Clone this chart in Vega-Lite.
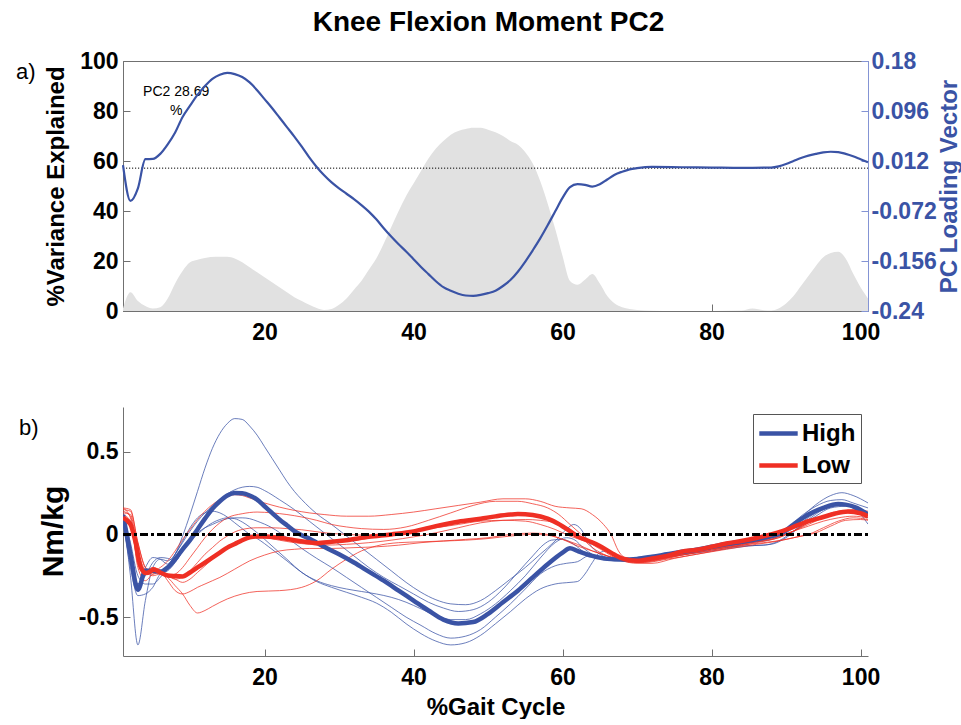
{
  "$schema": "https://vega.github.io/schema/vega-lite/v6.json",
  "title": {"text": "Knee Flexion Moment PC2", "font": "Liberation Sans", "fontSize": 28, "fontWeight": "bold", "color": "#000000", "anchor": "middle", "offset": 13},
  "padding": {"left": 15, "top": 8, "right": 0, "bottom": 0},
  "spacing": 62,
  "resolve": {"legend": {"color": "independent"}, "scale": {"color": "independent"}},
  "config": {
    "font": "Liberation Sans",
    "view": {"stroke": null},
    "axis": {
      "grid": false,
      "domainColor": "#707070",
      "tickColor": "#707070",
      "tickSize": -7,
      "labelFont": "Liberation Sans",
      "labelFontSize": 23,
      "labelFontWeight": "bold",
      "labelColor": "#000000",
      "labelFlush": false,
      "labelOverlap": false,
      "titleFont": "Liberation Sans",
      "titleFontWeight": "bold",
      "titleColor": "#000000"
    },
    "legend": {
      "orient": "top-right",
      "offset": 7,
      "strokeColor": "#555555",
      "fillColor": "#ffffff",
      "padding": 5,
      "rowPadding": 5,
      "labelOffset": 9,
      "labelFont": "Liberation Sans",
      "labelFontSize": 24,
      "labelFontWeight": "bold",
      "labelColor": "#000000",
      "symbolType": "M-1.6,0H1.6",
      "symbolSize": 576,
      "symbolOffset": 6,
      "symbolStrokeWidth": 4.5,
      "symbolOpacity": 1
    }
  },
  "datasets": {
    "variance": [
      {"x":1,"y":1},{"x":2,"y":7.5},{"x":3,"y":4},{"x":4,"y":2},{"x":5,"y":1},{"x":6,"y":1.5},{"x":7,"y":5},{"x":8,"y":11},{"x":9,"y":16},{"x":10,"y":19.5},
      {"x":11,"y":20.5},{"x":12,"y":21.2},{"x":13.5,"y":21.7},{"x":15,"y":21.7},{"x":16,"y":21},{"x":17,"y":19.5},{"x":18,"y":17.5},{"x":19,"y":15.5},{"x":20,"y":13.5},
      {"x":21,"y":11.5},{"x":22,"y":9.5},{"x":23,"y":7.5},{"x":24,"y":5.5},{"x":25,"y":4},{"x":26,"y":2.5},{"x":27,"y":1.2},{"x":28,"y":0.4},{"x":29,"y":0.8},{"x":30,"y":2.5},
      {"x":31,"y":5},{"x":32,"y":8.5},{"x":33,"y":12},{"x":34,"y":16.5},{"x":35,"y":21},{"x":36,"y":27},{"x":37,"y":33.5},{"x":38,"y":40},{"x":39,"y":46},{"x":40,"y":51},
      {"x":41,"y":56},{"x":42,"y":61},{"x":43,"y":65},{"x":44,"y":68},{"x":45,"y":70.5},{"x":46,"y":72},{"x":47,"y":72.8},{"x":48,"y":73.3},{"x":49,"y":73.3},{"x":50,"y":72.5},
      {"x":51,"y":71.5},{"x":52,"y":70},{"x":53,"y":68},{"x":54,"y":66.5},{"x":55,"y":63.5},{"x":56,"y":59},{"x":57,"y":52},{"x":58,"y":43},{"x":59,"y":33},{"x":60,"y":22},
      {"x":61,"y":12},{"x":62,"y":10.5},{"x":63,"y":12.5},{"x":64,"y":14.8},{"x":65,"y":11},{"x":66,"y":6},{"x":67,"y":3},{"x":68,"y":1.5},{"x":69,"y":0.8},{"x":70,"y":0.4},
      {"x":72,"y":0.1},{"x":75,"y":0},{"x":80,"y":0},{"x":84,"y":0.2},{"x":85.5,"y":1},{"x":87,"y":0.3},{"x":88,"y":0.2},{"x":89,"y":1},{"x":90,"y":3},
      {"x":91,"y":6},{"x":92,"y":10},{"x":93,"y":14},{"x":94,"y":18},{"x":95,"y":21.5},{"x":96,"y":23.2},{"x":97,"y":23.7},{"x":98,"y":21},{"x":99,"y":15},{"x":100,"y":9.5},{"x":101,"y":5}
    ],
    "loading": [
      {"x":1,"y":0.005},{"x":2,"y":-0.055},{"x":3,"y":-0.034},{"x":4,"y":0.015},{"x":5,"y":0.0155},{"x":6,"y":0.024},{"x":7,"y":0.04},{"x":8,"y":0.06},{"x":9,"y":0.086},{"x":10,"y":0.105},
      {"x":11,"y":0.123},{"x":12,"y":0.138},{"x":13,"y":0.15},{"x":14,"y":0.157},{"x":15,"y":0.16},{"x":16,"y":0.158},{"x":17,"y":0.153},{"x":18,"y":0.144},{"x":19,"y":0.131},{"x":20,"y":0.116},
      {"x":21,"y":0.101},{"x":22,"y":0.085},{"x":23,"y":0.069},{"x":24,"y":0.053},{"x":25,"y":0.036},{"x":26,"y":0.018},{"x":27,"y":0.002},{"x":28,"y":-0.012},{"x":29,"y":-0.024},{"x":30,"y":-0.034},
      {"x":31,"y":-0.043},{"x":32,"y":-0.052},{"x":33,"y":-0.062},{"x":34,"y":-0.073},{"x":35,"y":-0.086},{"x":36,"y":-0.101},{"x":37,"y":-0.115},{"x":38,"y":-0.128},{"x":39,"y":-0.14},{"x":40,"y":-0.153},
      {"x":41,"y":-0.166},{"x":42,"y":-0.178},{"x":43,"y":-0.19},{"x":44,"y":-0.2},{"x":45,"y":-0.206},{"x":46,"y":-0.211},{"x":47,"y":-0.214},{"x":48,"y":-0.2145},{"x":49,"y":-0.213},{"x":50,"y":-0.21},
      {"x":51,"y":-0.206},{"x":52,"y":-0.198},{"x":53,"y":-0.188},{"x":54,"y":-0.174},{"x":55,"y":-0.157},{"x":56,"y":-0.138},{"x":57,"y":-0.118},{"x":58,"y":-0.096},{"x":59,"y":-0.073},{"x":60,"y":-0.05},
      {"x":61,"y":-0.032},{"x":62,"y":-0.027},{"x":63,"y":-0.028},{"x":64,"y":-0.031},{"x":65,"y":-0.027},{"x":66,"y":-0.019},{"x":67,"y":-0.011},{"x":68,"y":-0.006},{"x":69,"y":-0.002},{"x":70,"y":0.0},
      {"x":72,"y":0.002},{"x":76,"y":0.0015},{"x":80,"y":0.001},{"x":84,"y":0.0005},{"x":88,"y":0.001},{"x":89,"y":0.003},{"x":90,"y":0.007},{"x":91,"y":0.012},{"x":92,"y":0.017},{"x":93,"y":0.021},
      {"x":94,"y":0.024},{"x":95,"y":0.0265},{"x":96,"y":0.0275},{"x":97,"y":0.027},{"x":98,"y":0.024},{"x":99,"y":0.02},{"x":100,"y":0.015},{"x":101,"y":0.01}
    ],
    "means": [
      {"g":"High","x":1,"y":0.118},{"g":"High","x":2,"y":-0.12},{"g":"High","x":3,"y":-0.335},{"g":"High","x":4,"y":-0.22},{"g":"High","x":5,"y":-0.22},{"g":"High","x":6,"y":-0.225},{"g":"High","x":7,"y":-0.2},{"g":"High","x":8,"y":-0.15},{"g":"High","x":9,"y":-0.09},{"g":"High","x":10,"y":-0.035},
      {"g":"High","x":11,"y":0.03},{"g":"High","x":12,"y":0.095},{"g":"High","x":13,"y":0.155},{"g":"High","x":14,"y":0.2},{"g":"High","x":15,"y":0.235},{"g":"High","x":16,"y":0.25},{"g":"High","x":17,"y":0.248},{"g":"High","x":18,"y":0.235},{"g":"High","x":19,"y":0.21},{"g":"High","x":20,"y":0.17},
      {"g":"High","x":21,"y":0.13},{"g":"High","x":22,"y":0.09},{"g":"High","x":23,"y":0.055},{"g":"High","x":24,"y":0.02},{"g":"High","x":25,"y":-0.005},{"g":"High","x":26,"y":-0.025},{"g":"High","x":27,"y":-0.05},{"g":"High","x":28,"y":-0.075},{"g":"High","x":30,"y":-0.12},{"g":"High","x":32,"y":-0.17},
      {"g":"High","x":34,"y":-0.225},{"g":"High","x":36,"y":-0.28},{"g":"High","x":38,"y":-0.34},{"g":"High","x":40,"y":-0.4},{"g":"High","x":42,"y":-0.46},{"g":"High","x":44,"y":-0.515},{"g":"High","x":46,"y":-0.538},{"g":"High","x":48,"y":-0.53},{"g":"High","x":50,"y":-0.48},{"g":"High","x":52,"y":-0.41},
      {"g":"High","x":54,"y":-0.34},{"g":"High","x":56,"y":-0.26},{"g":"High","x":58,"y":-0.18},{"g":"High","x":60,"y":-0.11},{"g":"High","x":61,"y":-0.083},{"g":"High","x":62,"y":-0.1},{"g":"High","x":64,"y":-0.13},{"g":"High","x":66,"y":-0.148},{"g":"High","x":68,"y":-0.152},{"g":"High","x":70,"y":-0.148},
      {"g":"High","x":72,"y":-0.135},{"g":"High","x":74,"y":-0.12},{"g":"High","x":76,"y":-0.105},{"g":"High","x":78,"y":-0.093},{"g":"High","x":80,"y":-0.075},{"g":"High","x":82,"y":-0.058},{"g":"High","x":84,"y":-0.045},{"g":"High","x":86,"y":-0.03},{"g":"High","x":88,"y":-0.01},{"g":"High","x":89.5,"y":0.01},
      {"g":"High","x":91,"y":0.06},{"g":"High","x":93,"y":0.12},{"g":"High","x":95,"y":0.16},{"g":"High","x":97,"y":0.183},{"g":"High","x":98,"y":0.18},{"g":"High","x":99.5,"y":0.16},{"g":"High","x":101,"y":0.12},
      {"g":"Low","x":1,"y":0.1},{"g":"Low","x":2,"y":0.06},{"g":"Low","x":2.7,"y":-0.05},{"g":"Low","x":3.4,"y":-0.2},{"g":"Low","x":4.1,"y":-0.234},{"g":"Low","x":5.2,"y":-0.214},{"g":"Low","x":6,"y":-0.23},{"g":"Low","x":7,"y":-0.248},{"g":"Low","x":8,"y":-0.252},{"g":"Low","x":9,"y":-0.254},
      {"g":"Low","x":10,"y":-0.23},{"g":"Low","x":11,"y":-0.2},{"g":"Low","x":12,"y":-0.17},{"g":"Low","x":13,"y":-0.14},{"g":"Low","x":14,"y":-0.11},{"g":"Low","x":15,"y":-0.08},{"g":"Low","x":16,"y":-0.058},{"g":"Low","x":17,"y":-0.035},{"g":"Low","x":18,"y":-0.018},{"g":"Low","x":19,"y":-0.012},
      {"g":"Low","x":20,"y":-0.012},{"g":"Low","x":22,"y":-0.02},{"g":"Low","x":24,"y":-0.035},{"g":"Low","x":26,"y":-0.048},{"g":"Low","x":27,"y":-0.053},{"g":"Low","x":29,"y":-0.045},{"g":"Low","x":31,"y":-0.035},{"g":"Low","x":34,"y":-0.015},{"g":"Low","x":37,"y":0.0},{"g":"Low","x":40,"y":0.018},
      {"g":"Low","x":43,"y":0.05},{"g":"Low","x":46,"y":0.077},{"g":"Low","x":49,"y":0.095},{"g":"Low","x":51,"y":0.109},{"g":"Low","x":53,"y":0.12},{"g":"Low","x":54,"y":0.123},{"g":"Low","x":56,"y":0.117},{"g":"Low","x":58,"y":0.095},{"g":"Low","x":59.3,"y":0.068},{"g":"Low","x":61,"y":0.02},
      {"g":"Low","x":62,"y":-0.012},{"g":"Low","x":63.5,"y":-0.04},{"g":"Low","x":65,"y":-0.07},{"g":"Low","x":66.5,"y":-0.11},{"g":"Low","x":68,"y":-0.145},{"g":"Low","x":70,"y":-0.16},{"g":"Low","x":72,"y":-0.145},{"g":"Low","x":74,"y":-0.13},{"g":"Low","x":76,"y":-0.105},{"g":"Low","x":78,"y":-0.093},
      {"g":"Low","x":80,"y":-0.075},{"g":"Low","x":82,"y":-0.055},{"g":"Low","x":84,"y":-0.04},{"g":"Low","x":86,"y":-0.022},{"g":"Low","x":88,"y":0.0},{"g":"Low","x":89.5,"y":0.02},{"g":"Low","x":91,"y":0.045},{"g":"Low","x":93,"y":0.08},{"g":"Low","x":95,"y":0.105},{"g":"Low","x":96.5,"y":0.125},
      {"g":"Low","x":98.3,"y":0.139},{"g":"Low","x":100,"y":0.128},{"g":"Low","x":101,"y":0.109}
    ],
    "trials": [
      {"id":"H1","g":"High","x":1,"y":0.1},{"id":"H1","g":"High","x":2,"y":-0.12},{"id":"H1","g":"High","x":3,"y":-0.3},{"id":"H1","g":"High","x":4,"y":-0.2},{"id":"H1","g":"High","x":5,"y":-0.14},{"id":"H1","g":"High","x":6,"y":-0.15},{"id":"H1","g":"High","x":7,"y":-0.18},{"id":"H1","g":"High","x":8,"y":-0.12},{"id":"H1","g":"High","x":9,"y":-0.01},{"id":"H1","g":"High","x":10,"y":0.12},
      {"id":"H1","g":"High","x":11,"y":0.26},{"id":"H1","g":"High","x":12,"y":0.4},{"id":"H1","g":"High","x":13,"y":0.52},{"id":"H1","g":"High","x":14,"y":0.61},{"id":"H1","g":"High","x":15,"y":0.67},{"id":"H1","g":"High","x":16,"y":0.7},{"id":"H1","g":"High","x":17,"y":0.695},{"id":"H1","g":"High","x":18,"y":0.655},{"id":"H1","g":"High","x":19,"y":0.6},{"id":"H1","g":"High","x":20,"y":0.53},
      {"id":"H1","g":"High","x":21,"y":0.46},{"id":"H1","g":"High","x":22,"y":0.39},{"id":"H1","g":"High","x":23,"y":0.32},{"id":"H1","g":"High","x":24,"y":0.26},{"id":"H1","g":"High","x":25,"y":0.21},{"id":"H1","g":"High","x":26,"y":0.165},{"id":"H1","g":"High","x":27,"y":0.125},{"id":"H1","g":"High","x":29,"y":0.06},{"id":"H1","g":"High","x":31,"y":-0.01},{"id":"H1","g":"High","x":33,"y":-0.08},
      {"id":"H1","g":"High","x":35,"y":-0.15},{"id":"H1","g":"High","x":37,"y":-0.22},{"id":"H1","g":"High","x":39,"y":-0.29},{"id":"H1","g":"High","x":41,"y":-0.35},{"id":"H1","g":"High","x":43,"y":-0.395},{"id":"H1","g":"High","x":45,"y":-0.42},{"id":"H1","g":"High","x":47,"y":-0.425},{"id":"H1","g":"High","x":49,"y":-0.4},{"id":"H1","g":"High","x":51,"y":-0.34},{"id":"H1","g":"High","x":53,"y":-0.27},
      {"id":"H1","g":"High","x":55,"y":-0.2},{"id":"H1","g":"High","x":57,"y":-0.12},{"id":"H1","g":"High","x":59,"y":-0.04},{"id":"H1","g":"High","x":60.5,"y":0.03},{"id":"H1","g":"High","x":61.5,"y":0.06},{"id":"H1","g":"High","x":62.5,"y":0.03},{"id":"H1","g":"High","x":63.5,"y":-0.05},{"id":"H1","g":"High","x":65,"y":-0.12},{"id":"H1","g":"High","x":67,"y":-0.15},{"id":"H1","g":"High","x":70,"y":-0.155},
      {"id":"H1","g":"High","x":75,"y":-0.12},{"id":"H1","g":"High","x":80,"y":-0.085},{"id":"H1","g":"High","x":85,"y":-0.05},{"id":"H1","g":"High","x":88,"y":-0.03},{"id":"H1","g":"High","x":90,"y":0.02},{"id":"H1","g":"High","x":92,"y":0.1},{"id":"H1","g":"High","x":94,"y":0.18},{"id":"H1","g":"High","x":96,"y":0.235},{"id":"H1","g":"High","x":97.5,"y":0.252},{"id":"H1","g":"High","x":99,"y":0.235},{"id":"H1","g":"High","x":101,"y":0.19},

      {"id":"H2","g":"High","x":1,"y":0.13},{"id":"H2","g":"High","x":2,"y":-0.25},{"id":"H2","g":"High","x":3,"y":-0.668},{"id":"H2","g":"High","x":4,"y":-0.4},{"id":"H2","g":"High","x":5,"y":-0.2},{"id":"H2","g":"High","x":6,"y":-0.15},{"id":"H2","g":"High","x":7,"y":-0.16},{"id":"H2","g":"High","x":8,"y":-0.12},{"id":"H2","g":"High","x":9,"y":-0.04},{"id":"H2","g":"High","x":10,"y":0.04},
      {"id":"H2","g":"High","x":11,"y":0.1},{"id":"H2","g":"High","x":12,"y":0.13},{"id":"H2","g":"High","x":13,"y":0.14},{"id":"H2","g":"High","x":14,"y":0.13},{"id":"H2","g":"High","x":15,"y":0.105},{"id":"H2","g":"High","x":16,"y":0.07},{"id":"H2","g":"High","x":17,"y":0.035},{"id":"H2","g":"High","x":18,"y":0.0},{"id":"H2","g":"High","x":19,"y":-0.025},{"id":"H2","g":"High","x":21,"y":-0.09},
      {"id":"H2","g":"High","x":23,"y":-0.16},{"id":"H2","g":"High","x":25,"y":-0.23},{"id":"H2","g":"High","x":27,"y":-0.285},{"id":"H2","g":"High","x":29,"y":-0.32},{"id":"H2","g":"High","x":31,"y":-0.35},{"id":"H2","g":"High","x":33,"y":-0.38},{"id":"H2","g":"High","x":35,"y":-0.415},{"id":"H2","g":"High","x":37,"y":-0.47},{"id":"H2","g":"High","x":39,"y":-0.54},{"id":"H2","g":"High","x":41,"y":-0.6},
      {"id":"H2","g":"High","x":43,"y":-0.645},{"id":"H2","g":"High","x":45,"y":-0.668},{"id":"H2","g":"High","x":47,"y":-0.655},{"id":"H2","g":"High","x":49,"y":-0.61},{"id":"H2","g":"High","x":51,"y":-0.54},{"id":"H2","g":"High","x":53,"y":-0.467},{"id":"H2","g":"High","x":55,"y":-0.39},{"id":"H2","g":"High","x":57,"y":-0.33},{"id":"H2","g":"High","x":59,"y":-0.3},{"id":"H2","g":"High","x":61,"y":-0.29},
      {"id":"H2","g":"High","x":62,"y":-0.285},{"id":"H2","g":"High","x":63,"y":-0.24},{"id":"H2","g":"High","x":64,"y":-0.17},{"id":"H2","g":"High","x":65,"y":-0.11},{"id":"H2","g":"High","x":66,"y":-0.1},{"id":"H2","g":"High","x":67,"y":-0.13},{"id":"H2","g":"High","x":69,"y":-0.15},{"id":"H2","g":"High","x":72,"y":-0.14},{"id":"H2","g":"High","x":76,"y":-0.115},{"id":"H2","g":"High","x":80,"y":-0.09},
      {"id":"H2","g":"High","x":84,"y":-0.07},{"id":"H2","g":"High","x":87,"y":-0.065},{"id":"H2","g":"High","x":89,"y":-0.04},{"id":"H2","g":"High","x":91,"y":0.02},{"id":"H2","g":"High","x":93,"y":0.09},{"id":"H2","g":"High","x":95,"y":0.15},{"id":"H2","g":"High","x":97,"y":0.18},{"id":"H2","g":"High","x":99,"y":0.16},{"id":"H2","g":"High","x":101,"y":0.062},

      {"id":"H3","g":"High","x":1,"y":0.12},{"id":"H3","g":"High","x":2,"y":-0.05},{"id":"H3","g":"High","x":3,"y":-0.25},{"id":"H3","g":"High","x":4,"y":-0.3},{"id":"H3","g":"High","x":5,"y":-0.3},{"id":"H3","g":"High","x":6,"y":-0.26},{"id":"H3","g":"High","x":7,"y":-0.2},{"id":"H3","g":"High","x":8,"y":-0.12},{"id":"H3","g":"High","x":9,"y":-0.05},{"id":"H3","g":"High","x":10,"y":0.02},
      {"id":"H3","g":"High","x":11,"y":0.08},{"id":"H3","g":"High","x":12,"y":0.13},{"id":"H3","g":"High","x":13,"y":0.17},{"id":"H3","g":"High","x":14,"y":0.21},{"id":"H3","g":"High","x":15,"y":0.245},{"id":"H3","g":"High","x":16,"y":0.27},{"id":"H3","g":"High","x":17,"y":0.285},{"id":"H3","g":"High","x":18,"y":0.29},{"id":"H3","g":"High","x":19,"y":0.285},{"id":"H3","g":"High","x":20,"y":0.265},
      {"id":"H3","g":"High","x":22,"y":0.21},{"id":"H3","g":"High","x":24,"y":0.15},{"id":"H3","g":"High","x":26,"y":0.08},{"id":"H3","g":"High","x":28,"y":0.01},{"id":"H3","g":"High","x":30,"y":-0.06},{"id":"H3","g":"High","x":32,"y":-0.13},{"id":"H3","g":"High","x":34,"y":-0.2},{"id":"H3","g":"High","x":36,"y":-0.26},{"id":"H3","g":"High","x":38,"y":-0.31},{"id":"H3","g":"High","x":40,"y":-0.36},
      {"id":"H3","g":"High","x":42,"y":-0.41},{"id":"H3","g":"High","x":44,"y":-0.445},{"id":"H3","g":"High","x":46,"y":-0.466},{"id":"H3","g":"High","x":48,"y":-0.455},{"id":"H3","g":"High","x":50,"y":-0.41},{"id":"H3","g":"High","x":52,"y":-0.33},{"id":"H3","g":"High","x":54,"y":-0.23},{"id":"H3","g":"High","x":56,"y":-0.13},{"id":"H3","g":"High","x":57.5,"y":-0.06},{"id":"H3","g":"High","x":58.5,"y":-0.035},
      {"id":"H3","g":"High","x":60,"y":-0.03},{"id":"H3","g":"High","x":61.5,"y":-0.06},{"id":"H3","g":"High","x":63,"y":-0.11},{"id":"H3","g":"High","x":65,"y":-0.14},{"id":"H3","g":"High","x":67,"y":-0.155},{"id":"H3","g":"High","x":70,"y":-0.16},{"id":"H3","g":"High","x":75,"y":-0.125},{"id":"H3","g":"High","x":80,"y":-0.085},{"id":"H3","g":"High","x":85,"y":-0.05},{"id":"H3","g":"High","x":88,"y":-0.02},
      {"id":"H3","g":"High","x":90,"y":0.03},{"id":"H3","g":"High","x":92,"y":0.11},{"id":"H3","g":"High","x":94,"y":0.17},{"id":"H3","g":"High","x":96,"y":0.205},{"id":"H3","g":"High","x":97.5,"y":0.21},{"id":"H3","g":"High","x":99,"y":0.19},{"id":"H3","g":"High","x":101,"y":0.16},

      {"id":"H4","g":"High","x":1,"y":0.08},{"id":"H4","g":"High","x":2,"y":-0.2},{"id":"H4","g":"High","x":3,"y":-0.37},{"id":"H4","g":"High","x":4,"y":-0.36},{"id":"H4","g":"High","x":5,"y":-0.32},{"id":"H4","g":"High","x":6,"y":-0.24},{"id":"H4","g":"High","x":7,"y":-0.22},{"id":"H4","g":"High","x":8,"y":-0.17},{"id":"H4","g":"High","x":9,"y":-0.1},{"id":"H4","g":"High","x":10,"y":-0.03},
      {"id":"H4","g":"High","x":11,"y":0.01},{"id":"H4","g":"High","x":12,"y":0.04},{"id":"H4","g":"High","x":13,"y":0.06},{"id":"H4","g":"High","x":14,"y":0.08},{"id":"H4","g":"High","x":15,"y":0.095},{"id":"H4","g":"High","x":16,"y":0.1},{"id":"H4","g":"High","x":17,"y":0.1},{"id":"H4","g":"High","x":18,"y":0.095},{"id":"H4","g":"High","x":19,"y":0.08},{"id":"H4","g":"High","x":21,"y":0.04},
      {"id":"H4","g":"High","x":23,"y":-0.02},{"id":"H4","g":"High","x":25,"y":-0.085},{"id":"H4","g":"High","x":27,"y":-0.145},{"id":"H4","g":"High","x":29,"y":-0.2},{"id":"H4","g":"High","x":31,"y":-0.26},{"id":"H4","g":"High","x":33,"y":-0.32},{"id":"H4","g":"High","x":35,"y":-0.38},{"id":"H4","g":"High","x":37,"y":-0.44},{"id":"H4","g":"High","x":39,"y":-0.5},{"id":"H4","g":"High","x":41,"y":-0.55},
      {"id":"H4","g":"High","x":43,"y":-0.6},{"id":"H4","g":"High","x":45,"y":-0.627},{"id":"H4","g":"High","x":47,"y":-0.615},{"id":"H4","g":"High","x":49,"y":-0.575},{"id":"H4","g":"High","x":51,"y":-0.5},{"id":"H4","g":"High","x":53,"y":-0.42},{"id":"H4","g":"High","x":55,"y":-0.33},{"id":"H4","g":"High","x":57,"y":-0.24},{"id":"H4","g":"High","x":59,"y":-0.19},{"id":"H4","g":"High","x":60.5,"y":-0.175},
      {"id":"H4","g":"High","x":62,"y":-0.165},{"id":"H4","g":"High","x":63.5,"y":-0.13},{"id":"H4","g":"High","x":65,"y":-0.14},{"id":"H4","g":"High","x":67,"y":-0.16},{"id":"H4","g":"High","x":70,"y":-0.16},{"id":"H4","g":"High","x":75,"y":-0.13},{"id":"H4","g":"High","x":80,"y":-0.1},{"id":"H4","g":"High","x":85,"y":-0.07},{"id":"H4","g":"High","x":88,"y":-0.06},{"id":"H4","g":"High","x":90,"y":-0.02},
      {"id":"H4","g":"High","x":92,"y":0.05},{"id":"H4","g":"High","x":94,"y":0.11},{"id":"H4","g":"High","x":96,"y":0.16},{"id":"H4","g":"High","x":98,"y":0.17},{"id":"H4","g":"High","x":100,"y":0.15},{"id":"H4","g":"High","x":101,"y":0.13},

      {"id":"H5","g":"High","x":1,"y":0.1},{"id":"H5","g":"High","x":2,"y":-0.12},{"id":"H5","g":"High","x":3,"y":-0.3},{"id":"H5","g":"High","x":4,"y":-0.25},{"id":"H5","g":"High","x":5,"y":-0.17},{"id":"H5","g":"High","x":6,"y":-0.14},{"id":"H5","g":"High","x":7,"y":-0.145},{"id":"H5","g":"High","x":8,"y":-0.16},{"id":"H5","g":"High","x":9,"y":-0.1},{"id":"H5","g":"High","x":10,"y":-0.04},
      {"id":"H5","g":"High","x":11,"y":0.0},{"id":"H5","g":"High","x":12,"y":0.04},{"id":"H5","g":"High","x":13,"y":0.07},{"id":"H5","g":"High","x":14,"y":0.09},{"id":"H5","g":"High","x":15,"y":0.1},{"id":"H5","g":"High","x":16,"y":0.095},{"id":"H5","g":"High","x":17,"y":0.075},{"id":"H5","g":"High","x":18,"y":0.045},{"id":"H5","g":"High","x":19,"y":0.01},{"id":"H5","g":"High","x":21,"y":-0.07},
      {"id":"H5","g":"High","x":23,"y":-0.15},{"id":"H5","g":"High","x":25,"y":-0.23},{"id":"H5","g":"High","x":27,"y":-0.28},{"id":"H5","g":"High","x":29,"y":-0.31},{"id":"H5","g":"High","x":31,"y":-0.33},{"id":"H5","g":"High","x":33,"y":-0.345},{"id":"H5","g":"High","x":35,"y":-0.36},{"id":"H5","g":"High","x":37,"y":-0.38},{"id":"H5","g":"High","x":39,"y":-0.41},{"id":"H5","g":"High","x":41,"y":-0.45},
      {"id":"H5","g":"High","x":43,"y":-0.49},{"id":"H5","g":"High","x":45,"y":-0.515},{"id":"H5","g":"High","x":47,"y":-0.515},{"id":"H5","g":"High","x":49,"y":-0.48},{"id":"H5","g":"High","x":51,"y":-0.42},{"id":"H5","g":"High","x":53,"y":-0.34},{"id":"H5","g":"High","x":55,"y":-0.25},{"id":"H5","g":"High","x":57,"y":-0.143},{"id":"H5","g":"High","x":59,"y":-0.05},{"id":"H5","g":"High","x":60.5,"y":-0.02},
      {"id":"H5","g":"High","x":61.5,"y":-0.03},{"id":"H5","g":"High","x":63,"y":-0.09},{"id":"H5","g":"High","x":65,"y":-0.14},{"id":"H5","g":"High","x":67,"y":-0.15},{"id":"H5","g":"High","x":70,"y":-0.145},{"id":"H5","g":"High","x":75,"y":-0.11},{"id":"H5","g":"High","x":80,"y":-0.075},{"id":"H5","g":"High","x":85,"y":-0.04},{"id":"H5","g":"High","x":88,"y":-0.02},{"id":"H5","g":"High","x":90,"y":0.01},
      {"id":"H5","g":"High","x":92,"y":0.07},{"id":"H5","g":"High","x":94,"y":0.13},{"id":"H5","g":"High","x":96,"y":0.17},{"id":"H5","g":"High","x":98,"y":0.175},{"id":"H5","g":"High","x":100,"y":0.13},{"id":"H5","g":"High","x":101,"y":0.1},

      {"id":"L1","g":"Low","x":1,"y":0.15},{"id":"L1","g":"Low","x":2,"y":0.14},{"id":"L1","g":"Low","x":3,"y":-0.05},{"id":"L1","g":"Low","x":4,"y":-0.2},{"id":"L1","g":"Low","x":5,"y":-0.22},{"id":"L1","g":"Low","x":6,"y":-0.2},{"id":"L1","g":"Low","x":7,"y":-0.16},{"id":"L1","g":"Low","x":8,"y":-0.1},{"id":"L1","g":"Low","x":9,"y":-0.03},{"id":"L1","g":"Low","x":10,"y":0.03},
      {"id":"L1","g":"Low","x":11,"y":0.09},{"id":"L1","g":"Low","x":12,"y":0.14},{"id":"L1","g":"Low","x":13,"y":0.18},{"id":"L1","g":"Low","x":14,"y":0.21},{"id":"L1","g":"Low","x":15,"y":0.23},{"id":"L1","g":"Low","x":16,"y":0.24},{"id":"L1","g":"Low","x":17,"y":0.235},{"id":"L1","g":"Low","x":18,"y":0.22},{"id":"L1","g":"Low","x":20,"y":0.19},{"id":"L1","g":"Low","x":22,"y":0.165},
      {"id":"L1","g":"Low","x":24,"y":0.145},{"id":"L1","g":"Low","x":26,"y":0.13},{"id":"L1","g":"Low","x":28,"y":0.12},{"id":"L1","g":"Low","x":31,"y":0.11},{"id":"L1","g":"Low","x":34,"y":0.11},{"id":"L1","g":"Low","x":37,"y":0.12},{"id":"L1","g":"Low","x":40,"y":0.135},{"id":"L1","g":"Low","x":43,"y":0.155},{"id":"L1","g":"Low","x":46,"y":0.175},{"id":"L1","g":"Low","x":49,"y":0.195},
      {"id":"L1","g":"Low","x":52,"y":0.215},{"id":"L1","g":"Low","x":55,"y":0.215},{"id":"L1","g":"Low","x":57,"y":0.2},{"id":"L1","g":"Low","x":59,"y":0.17},{"id":"L1","g":"Low","x":61,"y":0.16},{"id":"L1","g":"Low","x":62.5,"y":0.155},{"id":"L1","g":"Low","x":64,"y":0.12},{"id":"L1","g":"Low","x":65.5,"y":0.06},{"id":"L1","g":"Low","x":66.5,"y":0.0},{"id":"L1","g":"Low","x":67.5,"y":-0.1},
      {"id":"L1","g":"Low","x":69,"y":-0.155},{"id":"L1","g":"Low","x":71,"y":-0.17},{"id":"L1","g":"Low","x":74,"y":-0.15},{"id":"L1","g":"Low","x":78,"y":-0.12},{"id":"L1","g":"Low","x":82,"y":-0.085},{"id":"L1","g":"Low","x":86,"y":-0.05},{"id":"L1","g":"Low","x":89,"y":-0.02},{"id":"L1","g":"Low","x":91,"y":0.02},{"id":"L1","g":"Low","x":93,"y":0.06},{"id":"L1","g":"Low","x":95,"y":0.1},
      {"id":"L1","g":"Low","x":97,"y":0.13},{"id":"L1","g":"Low","x":99,"y":0.15},{"id":"L1","g":"Low","x":101,"y":0.14},

      {"id":"L2","g":"Low","x":1,"y":0.12},{"id":"L2","g":"Low","x":2,"y":0.08},{"id":"L2","g":"Low","x":3,"y":-0.18},{"id":"L2","g":"Low","x":4,"y":-0.24},{"id":"L2","g":"Low","x":5,"y":-0.2},{"id":"L2","g":"Low","x":6,"y":-0.22},{"id":"L2","g":"Low","x":7,"y":-0.25},{"id":"L2","g":"Low","x":8,"y":-0.24},{"id":"L2","g":"Low","x":9,"y":-0.2},{"id":"L2","g":"Low","x":10,"y":-0.14},
      {"id":"L2","g":"Low","x":11,"y":-0.08},{"id":"L2","g":"Low","x":12,"y":-0.02},{"id":"L2","g":"Low","x":13,"y":0.03},{"id":"L2","g":"Low","x":14,"y":0.07},{"id":"L2","g":"Low","x":15,"y":0.1},{"id":"L2","g":"Low","x":17,"y":0.125},{"id":"L2","g":"Low","x":19,"y":0.135},{"id":"L2","g":"Low","x":21,"y":0.13},{"id":"L2","g":"Low","x":23,"y":0.12},{"id":"L2","g":"Low","x":25,"y":0.105},
      {"id":"L2","g":"Low","x":27,"y":0.085},{"id":"L2","g":"Low","x":29,"y":0.06},{"id":"L2","g":"Low","x":31,"y":0.045},{"id":"L2","g":"Low","x":33,"y":0.035},{"id":"L2","g":"Low","x":36,"y":0.03},{"id":"L2","g":"Low","x":39,"y":0.045},{"id":"L2","g":"Low","x":42,"y":0.085},{"id":"L2","g":"Low","x":45,"y":0.13},{"id":"L2","g":"Low","x":48,"y":0.175},{"id":"L2","g":"Low","x":51,"y":0.2},
      {"id":"L2","g":"Low","x":54,"y":0.2},{"id":"L2","g":"Low","x":56,"y":0.185},{"id":"L2","g":"Low","x":58,"y":0.16},{"id":"L2","g":"Low","x":59.5,"y":0.12},{"id":"L2","g":"Low","x":61,"y":0.06},{"id":"L2","g":"Low","x":62.5,"y":0.0},{"id":"L2","g":"Low","x":64,"y":-0.06},{"id":"L2","g":"Low","x":65.5,"y":-0.1},{"id":"L2","g":"Low","x":67,"y":-0.14},{"id":"L2","g":"Low","x":69,"y":-0.16},
      {"id":"L2","g":"Low","x":71,"y":-0.165},{"id":"L2","g":"Low","x":74,"y":-0.14},{"id":"L2","g":"Low","x":78,"y":-0.11},{"id":"L2","g":"Low","x":82,"y":-0.08},{"id":"L2","g":"Low","x":86,"y":-0.045},{"id":"L2","g":"Low","x":89,"y":-0.02},{"id":"L2","g":"Low","x":91,"y":0.02},{"id":"L2","g":"Low","x":93,"y":0.07},{"id":"L2","g":"Low","x":95,"y":0.11},{"id":"L2","g":"Low","x":97,"y":0.14},
      {"id":"L2","g":"Low","x":99,"y":0.145},{"id":"L2","g":"Low","x":101,"y":0.12},

      {"id":"L3","g":"Low","x":1,"y":0.16},{"id":"L3","g":"Low","x":2,"y":0.1},{"id":"L3","g":"Low","x":3,"y":-0.2},{"id":"L3","g":"Low","x":4,"y":-0.28},{"id":"L3","g":"Low","x":5,"y":-0.24},{"id":"L3","g":"Low","x":6,"y":-0.23},{"id":"L3","g":"Low","x":7,"y":-0.25},{"id":"L3","g":"Low","x":8,"y":-0.27},{"id":"L3","g":"Low","x":9,"y":-0.26},{"id":"L3","g":"Low","x":10,"y":-0.22},
      {"id":"L3","g":"Low","x":11,"y":-0.17},{"id":"L3","g":"Low","x":12,"y":-0.12},{"id":"L3","g":"Low","x":13,"y":-0.08},{"id":"L3","g":"Low","x":14,"y":-0.04},{"id":"L3","g":"Low","x":15,"y":-0.01},{"id":"L3","g":"Low","x":16,"y":0.015},{"id":"L3","g":"Low","x":17,"y":0.03},{"id":"L3","g":"Low","x":19,"y":0.04},{"id":"L3","g":"Low","x":21,"y":0.04},{"id":"L3","g":"Low","x":23,"y":0.035},
      {"id":"L3","g":"Low","x":25,"y":0.028},{"id":"L3","g":"Low","x":28,"y":0.01},{"id":"L3","g":"Low","x":31,"y":0.0},{"id":"L3","g":"Low","x":34,"y":-0.005},{"id":"L3","g":"Low","x":37,"y":0.0},{"id":"L3","g":"Low","x":40,"y":0.02},{"id":"L3","g":"Low","x":43,"y":0.04},{"id":"L3","g":"Low","x":46,"y":0.06},{"id":"L3","g":"Low","x":49,"y":0.08},{"id":"L3","g":"Low","x":52,"y":0.085},
      {"id":"L3","g":"Low","x":55,"y":0.08},{"id":"L3","g":"Low","x":57,"y":0.06},{"id":"L3","g":"Low","x":59,"y":0.03},{"id":"L3","g":"Low","x":61,"y":-0.01},{"id":"L3","g":"Low","x":63,"y":-0.04},{"id":"L3","g":"Low","x":65,"y":-0.07},{"id":"L3","g":"Low","x":67,"y":-0.13},{"id":"L3","g":"Low","x":69,"y":-0.16},{"id":"L3","g":"Low","x":71,"y":-0.16},{"id":"L3","g":"Low","x":74,"y":-0.14},
      {"id":"L3","g":"Low","x":78,"y":-0.1},{"id":"L3","g":"Low","x":82,"y":-0.07},{"id":"L3","g":"Low","x":86,"y":-0.035},{"id":"L3","g":"Low","x":89,"y":-0.01},{"id":"L3","g":"Low","x":91,"y":0.02},{"id":"L3","g":"Low","x":93,"y":0.05},{"id":"L3","g":"Low","x":95,"y":0.08},{"id":"L3","g":"Low","x":97,"y":0.1},{"id":"L3","g":"Low","x":99,"y":0.11},{"id":"L3","g":"Low","x":101,"y":0.1},

      {"id":"L4","g":"Low","x":1,"y":0.14},{"id":"L4","g":"Low","x":2,"y":0.11},{"id":"L4","g":"Low","x":3,"y":-0.15},{"id":"L4","g":"Low","x":4,"y":-0.22},{"id":"L4","g":"Low","x":5,"y":-0.2},{"id":"L4","g":"Low","x":6,"y":-0.22},{"id":"L4","g":"Low","x":7,"y":-0.28},{"id":"L4","g":"Low","x":8,"y":-0.34},{"id":"L4","g":"Low","x":9,"y":-0.36},{"id":"L4","g":"Low","x":10,"y":-0.345},
      {"id":"L4","g":"Low","x":11,"y":-0.32},{"id":"L4","g":"Low","x":12,"y":-0.3},{"id":"L4","g":"Low","x":13,"y":-0.28},{"id":"L4","g":"Low","x":14,"y":-0.26},{"id":"L4","g":"Low","x":16,"y":-0.21},{"id":"L4","g":"Low","x":18,"y":-0.16},{"id":"L4","g":"Low","x":20,"y":-0.125},{"id":"L4","g":"Low","x":22,"y":-0.1},{"id":"L4","g":"Low","x":24,"y":-0.09},{"id":"L4","g":"Low","x":26,"y":-0.085},
      {"id":"L4","g":"Low","x":29,"y":-0.085},{"id":"L4","g":"Low","x":32,"y":-0.08},{"id":"L4","g":"Low","x":35,"y":-0.075},{"id":"L4","g":"Low","x":38,"y":-0.065},{"id":"L4","g":"Low","x":41,"y":-0.05},{"id":"L4","g":"Low","x":44,"y":-0.04},{"id":"L4","g":"Low","x":47,"y":-0.03},{"id":"L4","g":"Low","x":50,"y":-0.02},{"id":"L4","g":"Low","x":53,"y":0.0},{"id":"L4","g":"Low","x":56,"y":0.008},
      {"id":"L4","g":"Low","x":58,"y":0.0},{"id":"L4","g":"Low","x":60,"y":-0.03},{"id":"L4","g":"Low","x":62,"y":-0.07},{"id":"L4","g":"Low","x":64,"y":-0.1},{"id":"L4","g":"Low","x":66,"y":-0.13},{"id":"L4","g":"Low","x":68,"y":-0.16},{"id":"L4","g":"Low","x":70,"y":-0.175},{"id":"L4","g":"Low","x":72,"y":-0.175},{"id":"L4","g":"Low","x":75,"y":-0.145},{"id":"L4","g":"Low","x":78,"y":-0.12},
      {"id":"L4","g":"Low","x":82,"y":-0.09},{"id":"L4","g":"Low","x":86,"y":-0.06},{"id":"L4","g":"Low","x":89,"y":-0.04},{"id":"L4","g":"Low","x":91,"y":-0.02},{"id":"L4","g":"Low","x":93,"y":0.0},{"id":"L4","g":"Low","x":95,"y":0.04},{"id":"L4","g":"Low","x":97,"y":0.08},{"id":"L4","g":"Low","x":99,"y":0.1},{"id":"L4","g":"Low","x":101,"y":0.09},

      {"id":"L5","g":"Low","x":1,"y":0.16},{"id":"L5","g":"Low","x":2,"y":0.15},{"id":"L5","g":"Low","x":3,"y":-0.05},{"id":"L5","g":"Low","x":4,"y":-0.2},{"id":"L5","g":"Low","x":5,"y":-0.24},{"id":"L5","g":"Low","x":6,"y":-0.23},{"id":"L5","g":"Low","x":7,"y":-0.26},{"id":"L5","g":"Low","x":8,"y":-0.31},{"id":"L5","g":"Low","x":9,"y":-0.36},{"id":"L5","g":"Low","x":10,"y":-0.43},
      {"id":"L5","g":"Low","x":11,"y":-0.475},{"id":"L5","g":"Low","x":12,"y":-0.46},{"id":"L5","g":"Low","x":13,"y":-0.435},{"id":"L5","g":"Low","x":15,"y":-0.39},{"id":"L5","g":"Low","x":17,"y":-0.36},{"id":"L5","g":"Low","x":19,"y":-0.345},{"id":"L5","g":"Low","x":22,"y":-0.34},{"id":"L5","g":"Low","x":25,"y":-0.32},{"id":"L5","g":"Low","x":27,"y":-0.28},{"id":"L5","g":"Low","x":29,"y":-0.21},
      {"id":"L5","g":"Low","x":31,"y":-0.15},{"id":"L5","g":"Low","x":33,"y":-0.1},{"id":"L5","g":"Low","x":35,"y":-0.07},{"id":"L5","g":"Low","x":38,"y":-0.05},{"id":"L5","g":"Low","x":41,"y":-0.045},{"id":"L5","g":"Low","x":44,"y":-0.04},{"id":"L5","g":"Low","x":47,"y":-0.035},{"id":"L5","g":"Low","x":50,"y":-0.025},{"id":"L5","g":"Low","x":53,"y":-0.01},{"id":"L5","g":"Low","x":56,"y":0.0},
      {"id":"L5","g":"Low","x":58,"y":-0.005},{"id":"L5","g":"Low","x":60,"y":-0.03},{"id":"L5","g":"Low","x":62,"y":-0.06},{"id":"L5","g":"Low","x":64,"y":-0.1},{"id":"L5","g":"Low","x":66,"y":-0.13},{"id":"L5","g":"Low","x":68,"y":-0.15},{"id":"L5","g":"Low","x":70,"y":-0.16},{"id":"L5","g":"Low","x":73,"y":-0.15},{"id":"L5","g":"Low","x":76,"y":-0.125},{"id":"L5","g":"Low","x":80,"y":-0.095},
      {"id":"L5","g":"Low","x":84,"y":-0.065},{"id":"L5","g":"Low","x":87,"y":-0.05},{"id":"L5","g":"Low","x":90,"y":-0.03},{"id":"L5","g":"Low","x":92,"y":-0.01},{"id":"L5","g":"Low","x":94,"y":0.01},{"id":"L5","g":"Low","x":96,"y":0.05},{"id":"L5","g":"Low","x":98,"y":0.085},{"id":"L5","g":"Low","x":100,"y":0.09},{"id":"L5","g":"Low","x":101,"y":0.085},

      {"id":"L6","g":"Low","x":1,"y":0.13},{"id":"L6","g":"Low","x":2,"y":0.12},{"id":"L6","g":"Low","x":3,"y":-0.1},{"id":"L6","g":"Low","x":4,"y":-0.22},{"id":"L6","g":"Low","x":5,"y":-0.25},{"id":"L6","g":"Low","x":6,"y":-0.24},{"id":"L6","g":"Low","x":7,"y":-0.25},{"id":"L6","g":"Low","x":8,"y":-0.27},{"id":"L6","g":"Low","x":9,"y":-0.29},{"id":"L6","g":"Low","x":10,"y":-0.27},
      {"id":"L6","g":"Low","x":11,"y":-0.23},{"id":"L6","g":"Low","x":12,"y":-0.19},{"id":"L6","g":"Low","x":13,"y":-0.15},{"id":"L6","g":"Low","x":14,"y":-0.11},{"id":"L6","g":"Low","x":15,"y":-0.08},{"id":"L6","g":"Low","x":16,"y":-0.05},{"id":"L6","g":"Low","x":17,"y":-0.03},{"id":"L6","g":"Low","x":18,"y":-0.02},{"id":"L6","g":"Low","x":20,"y":-0.02},{"id":"L6","g":"Low","x":22,"y":-0.035},
      {"id":"L6","g":"Low","x":24,"y":-0.05},{"id":"L6","g":"Low","x":26,"y":-0.06},{"id":"L6","g":"Low","x":28,"y":-0.065},{"id":"L6","g":"Low","x":31,"y":-0.06},{"id":"L6","g":"Low","x":34,"y":-0.05},{"id":"L6","g":"Low","x":37,"y":-0.035},{"id":"L6","g":"Low","x":40,"y":-0.015},{"id":"L6","g":"Low","x":43,"y":0.01},{"id":"L6","g":"Low","x":46,"y":0.04},{"id":"L6","g":"Low","x":49,"y":0.07},
      {"id":"L6","g":"Low","x":52,"y":0.085},{"id":"L6","g":"Low","x":55,"y":0.09},{"id":"L6","g":"Low","x":57,"y":0.085},{"id":"L6","g":"Low","x":59,"y":0.07},{"id":"L6","g":"Low","x":61,"y":0.03},{"id":"L6","g":"Low","x":62.5,"y":-0.02},{"id":"L6","g":"Low","x":64,"y":-0.08},{"id":"L6","g":"Low","x":66,"y":-0.13},{"id":"L6","g":"Low","x":68,"y":-0.16},{"id":"L6","g":"Low","x":70,"y":-0.17},
      {"id":"L6","g":"Low","x":73,"y":-0.155},{"id":"L6","g":"Low","x":76,"y":-0.125},{"id":"L6","g":"Low","x":80,"y":-0.09},{"id":"L6","g":"Low","x":84,"y":-0.06},{"id":"L6","g":"Low","x":87,"y":-0.035},{"id":"L6","g":"Low","x":89,"y":-0.015},{"id":"L6","g":"Low","x":91,"y":0.02},{"id":"L6","g":"Low","x":93,"y":0.07},{"id":"L6","g":"Low","x":95,"y":0.11},{"id":"L6","g":"Low","x":97,"y":0.13},
      {"id":"L6","g":"Low","x":99,"y":0.13},{"id":"L6","g":"Low","x":101,"y":0.115}
    ]
  },
  "vconcat": [
    {
      "width": 745,
      "height": 250,
      "view": {"stroke": "#707070", "strokeWidth": 1},
      "encoding": {
        "x": {
          "field": "x", "type": "quantitative",
          "scale": {"domain": [1, 101], "nice": false, "zero": false},
          "axis": {"title": null, "values": [20, 40, 60, 80, 100], "labelPadding": 17}
        }
      },
      "resolve": {"scale": {"y": "independent"}},
      "layer": [
        {
          "encoding": {
            "y": {
              "field": "y", "type": "quantitative",
              "scale": {"domain": [0, 100], "nice": false, "zero": false},
              "axis": {"orient": "left", "title": "%Variance Explained", "titleFontSize": 24, "titleAngle": 270, "titleBaseline": "alphabetic", "titleAlign": "center", "titleX": -60, "titleY": 125, "values": [0, 20, 40, 60, 80, 100], "labelPadding": 12}
            }
          },
          "layer": [
            {"data": {"name": "variance"}, "mark": {"type": "area", "color": "#e1e1e1", "interpolate": "monotone"}},
            {
              "data": {"values": [{"x": 8.13, "y": 87.8, "label": "PC2 28.69\n%"}]},
              "mark": {"type": "text", "font": "Liberation Sans", "fontSize": 14, "lineBreak": "\n", "lineHeight": 19, "align": "center", "baseline": "middle", "color": "#000000"},
              "encoding": {"text": {"field": "label"}}
            },
            {
              "data": {"values": [{"x": -12.05, "y": 95.6, "label": "a)"}]},
              "mark": {"type": "text", "font": "Liberation Sans", "fontSize": 22, "align": "center", "baseline": "middle", "color": "#000000"},
              "encoding": {"text": {"field": "label"}}
            }
          ]
        },
        {
          "encoding": {
            "y": {
              "field": "y", "type": "quantitative",
              "scale": {"domain": [-0.24, 0.18], "nice": false, "zero": false},
              "axis": {"orient": "right", "title": "PC Loading Vector", "titleFontSize": 24, "titleColor": "#3a53a5", "titleAngle": 270, "titleBaseline": "alphabetic", "titleAlign": "center", "titleX": 88, "titleY": 125, "values": [-0.24, -0.156, -0.072, 0.012, 0.096, 0.18], "labelExpr": "'' + datum.value", "labelColor": "#3a53a5", "labelPadding": 10, "domainColor": "#8494d4", "tickColor": "#8494d4"}
            }
          },
          "layer": [
            {"data": {"values": [{"x": 1, "y": 0}, {"x": 101, "y": 0}]}, "mark": {"type": "line", "color": "#000000", "strokeWidth": 1, "strokeDash": [1.2, 1.8]}},
            {"data": {"name": "loading"}, "mark": {"type": "line", "color": "#3a53a5", "strokeWidth": 2.2, "interpolate": "monotone"}}
          ]
        }
      ]
    },
    {
      "width": 745,
      "height": 249,
      "encoding": {
        "x": {
          "field": "x", "type": "quantitative",
          "scale": {"domain": [1, 101], "nice": false, "zero": false},
          "axis": {"title": "%Gait Cycle", "titleFontSize": 24, "titleBaseline": "alphabetic", "titleY": 58, "values": [20, 40, 60, 80, 100], "labelPadding": 17}
        },
        "y": {
          "field": "y", "type": "quantitative",
          "scale": {"domain": [-0.735, 0.77], "nice": false, "zero": false},
          "axis": {"title": "Nm/kg", "titleFontSize": 30, "titleAngle": 270, "titleBaseline": "alphabetic", "titleAlign": "center", "titleX": -61, "titleY": 124, "values": [-0.5, 0, 0.5], "labelExpr": "'' + datum.value", "labelPadding": 12}
        },
        "color": {
          "field": "g", "type": "nominal",
          "scale": {"domain": ["High", "Low"], "range": ["#3a53a5", "#ef2f24"]},
          "legend": {"title": null}
        }
      },
      "layer": [
        {"data": {"name": "trials"}, "mark": {"type": "line", "strokeWidth": 1, "opacity": 0.75, "interpolate": "monotone", "clip": true}, "encoding": {"detail": {"field": "id"}}},
        {"data": {"name": "means"}, "mark": {"type": "line", "strokeWidth": 4.5, "interpolate": "monotone", "clip": true}},
        {"data": {"values": [{"x": 1, "y": 0}, {"x": 101, "y": 0}]}, "mark": {"type": "line", "strokeWidth": 3, "strokeDash": [8, 3, 3, 3]}, "encoding": {"color": {"value": "#000000"}}},
        {
          "data": {"values": [{"x": -11.65, "y": 0.643, "label": "b)"}]},
          "mark": {"type": "text", "font": "Liberation Sans", "fontSize": 22, "align": "center", "baseline": "middle"},
          "encoding": {"text": {"field": "label"}, "color": {"value": "#000000"}}
        }
      ]
    }
  ]
}
